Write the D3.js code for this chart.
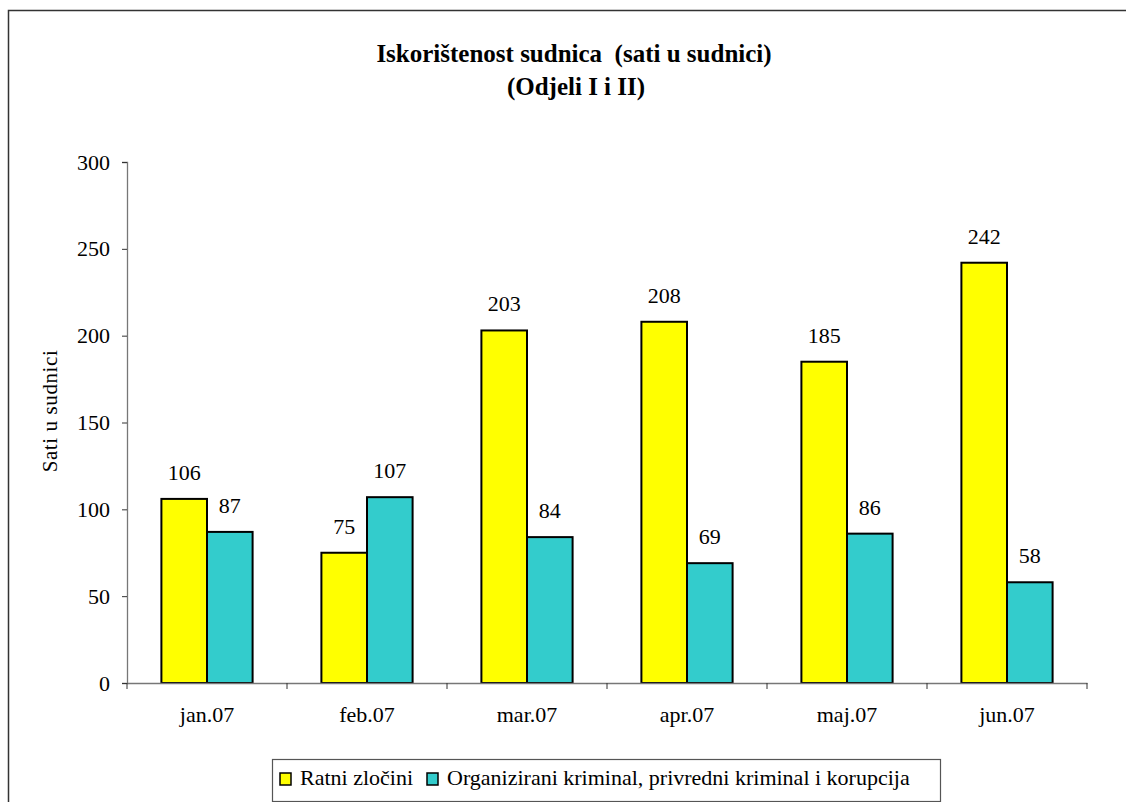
<!DOCTYPE html>
<html>
<head>
<meta charset="utf-8">
<script src="https://cdn.jsdelivr.net/npm/d3@7"></script>
<style>
  body { margin: 0; background: #fff; }
  text { font-family: "Liberation Serif", "Times New Roman", serif; fill: #000; }
</style>
</head>
<body>
<svg width="1126" height="802"></svg>
<script>
var months = ["jan.07", "feb.07", "mar.07", "apr.07", "maj.07", "jun.07"];
var ratni = [106, 75, 203, 208, 185, 242];
var organizirani = [87, 107, 84, 69, 86, 58];
var seriesNames = ["Ratni zločini", "Organizirani kriminal, privredni kriminal i korupcija"];
var colors = ["#ffff00", "#33cccc"];
var yTicks = [0, 50, 100, 150, 200, 250, 300];

var svg = d3.select("svg");

// outer frame (cut off at right and bottom like the picture)
svg.append("rect")
    .attr("x", 8.5).attr("y", 10.5)
    .attr("width", 1130).attr("height", 800)
    .attr("fill", "none").attr("stroke", "#333").attr("stroke-width", 1.5);

var margin = {top: 162, left: 127, right: 39, bottom: 119},
    width = 1126 - margin.left - margin.right,
    height = 802 - margin.top - margin.bottom,
    g = svg.append("g").attr("transform", "translate(" + margin.left + "," + margin.top + ")");

var x = d3.scaleBand().domain(months).range([0, width]).paddingInner(0).paddingOuter(0);
var x1 = d3.scaleBand().domain([0, 1]).range([x.bandwidth() * 0.215, x.bandwidth() * 0.785]);
var y = d3.scaleLinear().domain([0, 300]).range([height, 0]);

// y axis
var yAxis = g.append("g")
    .call(d3.axisLeft(y).tickValues(yTicks).tickSize(5).tickPadding(12));
yAxis.select(".domain").attr("stroke", "#777").attr("stroke-width", 1.3);
yAxis.selectAll(".tick line").attr("stroke", "#333");
yAxis.selectAll("text").style("font-size", "22px").style("font-family", "Liberation Serif");

g.append("text")
    .attr("transform", "rotate(-90)")
    .attr("x", -(411 - margin.top))
    .attr("y", 57 - margin.left)
    .attr("text-anchor", "middle")
    .style("font-size", "21px")
    .style("letter-spacing", "0.6px")
    .text("Sati u sudnici");

// bars
var data = months.map(function(m, i) { return {month: m, values: [ratni[i], organizirani[i]]}; });

var groups = g.selectAll(".grp")
    .data(data)
  .enter().append("g")
    .attr("transform", function(d) { return "translate(" + x(d.month) + ",0)"; });

groups.selectAll("rect")
    .data(function(d) { return d.values; })
  .enter().append("rect")
    .attr("x", function(d, i) { return x1(i); })
    .attr("width", x1.bandwidth())
    .attr("y", function(d) { return y(d); })
    .attr("height", function(d) { return height - y(d); })
    .attr("fill", function(d, i) { return colors[i]; })
    .attr("stroke", "#000")
    .attr("stroke-width", 2);

groups.selectAll(".val")
    .data(function(d) { return d.values; })
  .enter().append("text")
    .attr("x", function(d, i) { return x1(i) + x1.bandwidth() / 2; })
    .attr("y", function(d) { return y(d) - 19; })
    .attr("text-anchor", "middle")
    .style("font-size", "22px")
    .text(function(d) { return d; });

// x axis
var xAxis = g.append("g")
    .attr("transform", "translate(0," + height + ")")
    .call(d3.axisBottom(x).tickSize(0).tickPadding(0));
xAxis.select(".domain").attr("stroke", "#777").attr("stroke-width", 1.3);
xAxis.selectAll("text")
    .attr("dy", null).attr("y", 39)
    .style("font-size", "22px").style("font-family", "Liberation Serif");
xAxis.selectAll(".sep")
    .data(d3.range(months.length + 1))
  .enter().append("line")
    .attr("x1", function(i) { return i * x.step(); })
    .attr("x2", function(i) { return i * x.step(); })
    .attr("y1", 0).attr("y2", 6)
    .attr("stroke", "#333");

// title
svg.append("text")
    .attr("x", 574).attr("y", 62)
    .attr("text-anchor", "middle")
    .attr("xml:space", "preserve")
    .style("white-space", "pre")
    .style("font-size", "25px").style("font-weight", "bold")
    .text("Iskorištenost sudnica  (sati u sudnici)");
svg.append("text")
    .attr("x", 576).attr("y", 95)
    .attr("text-anchor", "middle")
    .style("font-size", "25px").style("font-weight", "bold")
    .text("(Odjeli I i II)");

// legend
var legend = svg.append("g").attr("transform", "translate(272,759)");
legend.append("rect")
    .attr("x", 0.5).attr("y", 0.5).attr("width", 668).attr("height", 42)
    .attr("fill", "#fff").attr("stroke", "#555").attr("stroke-width", 1.2);

var lx = [8, 155];
seriesNames.forEach(function(name, i) {
  legend.append("rect")
    .attr("x", lx[i]).attr("y", 14).attr("width", 11).attr("height", 12)
    .attr("fill", colors[i]).attr("stroke", "#000").attr("stroke-width", 1.5);
  legend.append("text")
    .attr("x", lx[i] + 20).attr("y", 26)
    .style("font-size", "22px")
    .text(name);
});
</script>
</body>
</html>
